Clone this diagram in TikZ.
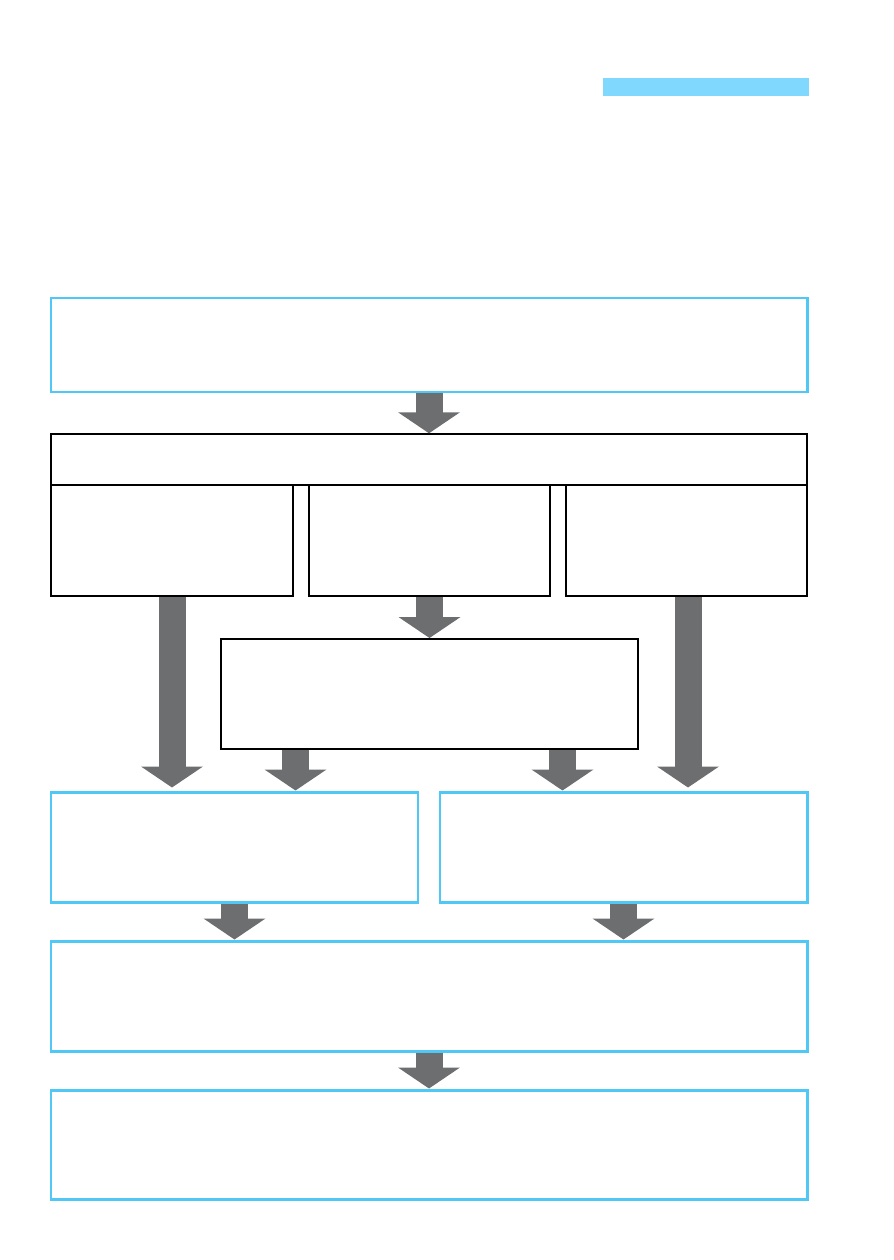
\documentclass[tikz,border=0pt]{standalone}
\usepackage{xcolor}
\usepackage{tikz}
\usetikzlibrary{arrows.meta,calc,positioning}
\definecolor{acikMavi}{HTML}{80D8FF}
\definecolor{kenarMavi}{HTML}{4FC8F6}
\definecolor{okGri}{HTML}{6D6E70}

\begin{document}
\begin{tikzpicture}[
  maviKutu/.style={draw=kenarMavi,line width=1.7pt,minimum height=2.2cm,inner sep=0pt},
  siyahKutu/.style={draw=black,line width=0.8pt,minimum height=2.22cm,inner sep=0pt},
  blokOk/.style={draw=okGri,line width=0.54cm,
    -{Triangle[length=0.42cm 0,width=1.22cm 0]}}]
\useasboundingbox (0,0) rectangle (17.88,-25.2);
% ust serit
\node[fill=acikMavi,minimum width=4.12cm,minimum height=0.36cm,inner sep=0pt] (serit) at (14.12,-1.74) {};
% kutular
\node[maviKutu,minimum width=15.12cm,minimum height=1.88cm] (giris) at (8.58,-6.90) {};
\node[siyahKutu,minimum width=15.12cm,minimum height=1.02cm] (baslik) at (8.58,-9.19) {};
\node[siyahKutu,minimum width=4.84cm] (sol) at (3.44,-10.81) {};
\node[siyahKutu,minimum width=4.82cm] (orta) at (8.59,-10.81) {};
\node[siyahKutu,minimum width=4.82cm] (sag) at (13.73,-10.81) {};
\node[siyahKutu,line width=1.1pt,minimum width=8.34cm,minimum height=2.2cm] (ara) at (8.59,-13.88) {};
\node[maviKutu,minimum width=7.34cm] (solSonuc) at (4.69,-16.94) {};
\node[maviKutu,minimum width=7.34cm] (sagSonuc) at (12.47,-16.94) {};
\node[maviKutu,minimum width=15.12cm] (birlesim) at (8.58,-19.92) {};
\node[maviKutu,minimum width=15.12cm,minimum height=2.18cm] (son) at (8.58,-22.89) {};
% oklar
\draw[blokOk] (giris.south) -- (baslik.north);
\draw[blokOk] (orta.south) -- (ara.north);
\draw[blokOk,shorten >=0.06cm] (sol.south) -- (sol.south |- solSonuc.north);
\draw[blokOk,shorten >=0.06cm] ([xshift=0.03cm]sag.south) -- ([xshift=0.03cm]sag.south |- sagSonuc.north);
\draw[blokOk] ([xshift=-2.68cm]ara.south) -- ([xshift=-2.68cm]ara.south |- solSonuc.north);
\draw[blokOk] ([xshift=2.66cm]ara.south) -- ([xshift=2.66cm]ara.south |- sagSonuc.north);
\draw[blokOk] (solSonuc.south) -- (solSonuc.south |- birlesim.north);
\draw[blokOk] (sagSonuc.south) -- (sagSonuc.south |- birlesim.north);
\draw[blokOk] (birlesim.south) -- (son.north);
\end{tikzpicture}
\end{document}
